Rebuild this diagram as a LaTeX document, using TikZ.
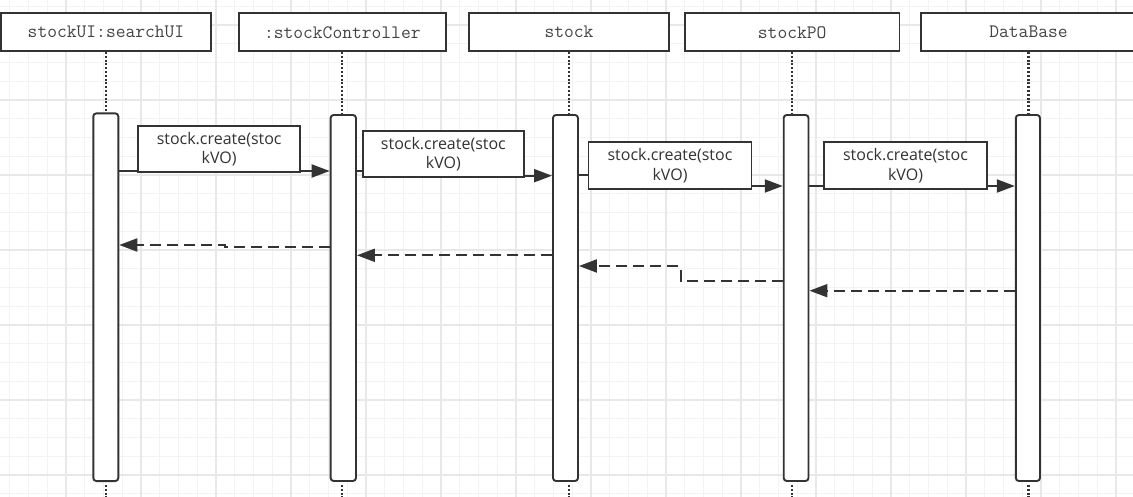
\documentclass[tikz,border=0pt]{standalone}
\usepackage{fontspec}
\setsansfont{Open Sans}
\usetikzlibrary{arrows.meta}
\definecolor{ink}{HTML}{333333}
\definecolor{htext}{HTML}{444444}
\definecolor{gminor}{HTML}{F3F3F3}
\definecolor{gmajor}{HTML}{E8E8E8}
\begin{document}
\begin{tikzpicture}[x=1pt,y=-1pt,
  hdr/.style={draw=ink, line width=1.9pt, fill=white, inner sep=0pt, font=\ttfamily\fontsize{19}{20}\selectfont, text=htext},
  bar/.style={draw=ink, line width=1.9pt, fill=white, rounded corners=3pt, inner sep=0pt},
  lbl/.style={draw=ink, line width=1.8pt, fill=white, inner sep=0pt, align=center, font=\sffamily\fontsize{16}{19.5}\selectfont, text=ink},
  life/.style={draw=ink, line width=2.2pt, dash pattern=on 2pt off 1.8pt},
  msg/.style={draw=ink, line width=2pt, -{Triangle[length=18pt,width=13pt]}},
  ret/.style={msg, dash pattern=on 11pt off 6pt},
  gmin/.style={draw=gminor, line width=1pt},
  gmaj/.style={draw=gmajor, line width=1.2pt},
]
\useasboundingbox (0,0) rectangle (1133,497);
\fill[white] (0,0) rectangle (1133,497);
% grid
\foreach \i in {0,...,59} \draw[gmin] ({9.75+18.75*\i},0) -- ++(0,497);
\foreach \j in {0,...,26} \draw[gmin] (0,{6.25+18.75*\j}) -- ++(1133,0);
\foreach \i in {0,...,14} \draw[gmaj] ({66+75*\i},0) -- ++(0,497);
\foreach \j in {0,...,6} \draw[gmaj] (0,{25+75*\j}) -- ++(1133,0);

% headers
\node[hdr, minimum width=210, minimum height=37.7] (h1) at (106,32.2) {stockUI:searchUI};
\node[hdr, minimum width=207.3, minimum height=37.7] (h2) at (342.3,32.2) {:stockController};
\node[hdr, minimum width=200.8, minimum height=37.7] (h3) at (569,32.2) {stock};
\node[hdr, minimum width=214.5, minimum height=37.7] (h4) at (792.2,32.2) {stockPO};
\node[hdr, minimum width=215, minimum height=37.7] (h5) at (1028.5,32.2) {DataBase};

% activation bars
\node[bar, minimum width=25, minimum height=367.7] (b1) at (105.8,297.2) {};
\node[bar, minimum width=25.3, minimum height=366] (b2) at (343.3,298) {};
\node[bar, minimum width=25, minimum height=366] (b3) at (565.5,298) {};
\node[bar, minimum width=24.8, minimum height=366] (b4) at (796.1,298) {};
\node[bar, minimum width=24.2, minimum height=366] (b5) at (1027.9,298) {};

% lifelines
\coordinate (bot) at (0,499);
\foreach \k in {1,...,5}{
  \draw[life] (h\k.south) -- (h\k.south |- b\k.north);
  \draw[life] ([yshift=-3pt]h\k.south |- b\k.south) -- (h\k.south |- bot);
}

% message levels
\coordinate (ya) at (0,171);
\coordinate (yb) at (0,175.7);
\coordinate (yc) at (0,175);
\coordinate (yd) at (0,186);
\coordinate (s2) at (443,0);
\coordinate (s3) at (670,0);

\draw[msg] (b1.east |- ya) -- (b2.west |- ya);
\draw[msg] (b2.east |- ya) -- (s2 |- ya) -- (s2 |- yb) -- (b3.west |- yb);
\draw[msg] (b3.east |- yc) -- (s3 |- yc) -- (s3 |- yd) -- (b4.west |- yd);
\draw[msg] (b4.east |- yd) -- (b5.west |- yd);

\node[lbl, minimum width=161.7, minimum height=46.3] (m1) at (219.2,149.2) {stock.create(stoc\\kVO)};
\node[lbl, minimum width=161.3, minimum height=46.6] (m2) at (443.4,154) {stock.create(stoc\\kVO)};
\node[lbl, minimum width=163, minimum height=46.4] (m3) at (670,165.5) {stock.create(stoc\\kVO)};
\node[lbl, minimum width=163, minimum height=46.4] (m4) at (905.5,165.5) {stock.create(stoc\\kVO)};

% returns
\coordinate (r1a) at (0,246.7);
\coordinate (r1b) at (0,245);
\coordinate (t1) at (225,0);
\coordinate (r2) at (0,255.3);
\coordinate (r3a) at (0,280.7);
\coordinate (r3b) at (0,266);
\coordinate (t3) at (680.6,0);
\coordinate (r4) at (0,290.7);

\draw[ret] (b2.west |- r1a) -- (t1 |- r1a) -- (t1 |- r1b) -- (b1.east |- r1b);
\draw[ret] (b3.west |- r2) -- (b2.east |- r2);
\draw[ret] (b4.west |- r3a) -- (t3 |- r3a) -- (t3 |- r3b) -- (b3.east |- r3b);
\draw[ret] (b5.west |- r4) -- (b4.east |- r4);
\end{tikzpicture}
\end{document}
